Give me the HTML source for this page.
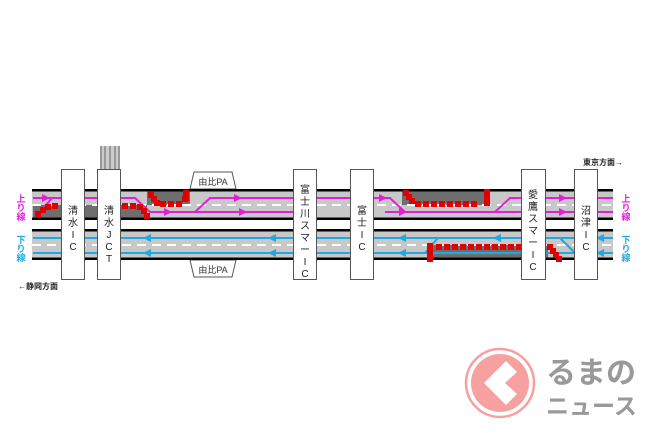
<!DOCTYPE html><html><head><meta charset="utf-8"><style>body{margin:0;background:#fff}svg{display:block}text{font-family:"Liberation Sans","Noto Sans CJK JP",sans-serif}</style></head><body>
<svg width="650" height="433" viewBox="0 0 650 433" xmlns="http://www.w3.org/2000/svg">
<defs>
<marker id="am" markerWidth="8" markerHeight="8" refX="6" refY="4" orient="auto" markerUnits="userSpaceOnUse"><path d="M0,0 L8,4 L0,8z" fill="#e020d8"/></marker>
<marker id="ab" markerWidth="8" markerHeight="8" refX="6" refY="4" orient="auto" markerUnits="userSpaceOnUse"><path d="M0,0 L8,4 L0,8z" fill="#20a8e0"/></marker>
</defs>
<g stroke="#777" stroke-width="1.2"><rect x="100" y="146" width="20" height="24" fill="#ccc" stroke="none"/><line x1="101" y1="146" x2="101" y2="170"/><line x1="105" y1="146" x2="105" y2="170"/><line x1="110" y1="146" x2="110" y2="170"/><line x1="115" y1="146" x2="115" y2="170"/><line x1="119" y1="146" x2="119" y2="170"/></g>
<path d="M194,172 L232,172 L236,189 L190,189z" fill="#fff" stroke="#555"/>
<path d="M190,260 L236,260 L232,277 L194,277z" fill="#fff" stroke="#555"/>
<text x="213" y="185" font-size="9" text-anchor="middle" fill="#333">由比PA</text>
<text x="213" y="273" font-size="9" text-anchor="middle" fill="#333">由比PA</text>
<rect x="32" y="189" width="581" height="31" fill="#c8c8c8"/>
<rect x="32" y="229" width="581" height="31" fill="#c8c8c8"/>
<rect x="33" y="205" width="114" height="13" fill="#6e6e6e"/>
<rect x="147" y="191" width="43" height="14" fill="#6e6e6e"/>
<rect x="402" y="191" width="86" height="14" fill="#6e6e6e"/>
<rect x="428" y="245" width="120" height="13" fill="#6e6e6e"/>
<g fill="#000"><rect x="32" y="189" width="581" height="2.5"/><rect x="32" y="217.5" width="581" height="2.5"/><rect x="32" y="229" width="581" height="2.5"/><rect x="32" y="257.5" width="581" height="2.5"/></g>
<line x1="32" y1="205" x2="613" y2="205" stroke="#fff" stroke-width="2" stroke-dasharray="9,6"/>
<line x1="32" y1="245" x2="613" y2="245" stroke="#fff" stroke-width="2" stroke-dasharray="9,6"/>
<g stroke="#e020d8" stroke-width="2" fill="none">
<path d="M33,198 L135,198 L150,212 L300,212" />
<path d="M33,212 L40,212 L52,198"/>
<path d="M195,212 L210,198 L300,198"/>
<path d="M300,198 L390,198 L405,212 L613,212"/>
<path d="M495,212 L510,198 L613,198"/>
<line x1="33" y1="198" x2="48" y2="198" marker-end="url(#am)"/>
<line x1="150" y1="212" x2="170" y2="212" marker-end="url(#am)"/>
<line x1="220" y1="198" x2="240" y2="198" marker-end="url(#am)"/>
<line x1="225" y1="212" x2="245" y2="212" marker-end="url(#am)"/>
<line x1="360" y1="198" x2="385" y2="198" marker-end="url(#am)"/>
<line x1="385" y1="212" x2="405" y2="212" marker-end="url(#am)"/>
<line x1="540" y1="198" x2="565" y2="198" marker-end="url(#am)"/>
<line x1="540" y1="212" x2="565" y2="212" marker-end="url(#am)"/>
</g>
<g stroke="#20a8e0" stroke-width="2" fill="none">
<line x1="613" y1="238" x2="33" y2="238"/>
<line x1="613" y1="253" x2="33" y2="253"/>
<line x1="613" y1="238" x2="598" y2="238" marker-end="url(#ab)"/>
<line x1="613" y1="253" x2="598" y2="253" marker-end="url(#ab)"/>
<path d="M575,253 L560,238"/>
<path d="M438,238 L425,253"/>
<line x1="510" y1="238" x2="495" y2="238" marker-end="url(#ab)"/>
<line x1="420" y1="253" x2="400" y2="253" marker-end="url(#ab)"/>
<line x1="420" y1="238" x2="400" y2="238" marker-end="url(#ab)"/>
<line x1="290" y1="238" x2="270" y2="238" marker-end="url(#ab)"/>
<line x1="290" y1="253" x2="270" y2="253" marker-end="url(#ab)"/>
<line x1="165" y1="238" x2="145" y2="238" marker-end="url(#ab)"/>
<line x1="165" y1="253" x2="145" y2="253" marker-end="url(#ab)"/>
</g>
<g fill="#e00000">
<rect x="35" y="211" width="6" height="6"/><rect x="40" y="207" width="6" height="6"/><rect x="45" y="204" width="6" height="6"/><rect x="52" y="203" width="6" height="6"/>
<rect x="122" y="203" width="6" height="6"/><rect x="130" y="203" width="6" height="6"/><rect x="137" y="204" width="6" height="6"/><rect x="141" y="208" width="6" height="6"/><rect x="144" y="213" width="6" height="6"/>
<rect x="148" y="192" width="6" height="6"/><rect x="151" y="196" width="6" height="6"/><rect x="154" y="200" width="6" height="6"/>
<rect x="160" y="201" width="6" height="6"/><rect x="168" y="201" width="6" height="6"/><rect x="176" y="201" width="6" height="6"/><rect x="182" y="196" width="6" height="6"/><rect x="183" y="190" width="6" height="11"/>
<rect x="403" y="190" width="6" height="6"/><rect x="406" y="194" width="6" height="6"/><rect x="409" y="198" width="6" height="6"/>
<rect x="415" y="201" width="6" height="6"/><rect x="423" y="201" width="6" height="6"/><rect x="431" y="201" width="6" height="6"/><rect x="439" y="201" width="6" height="6"/><rect x="447" y="201" width="6" height="6"/><rect x="455" y="201" width="6" height="6"/><rect x="463" y="201" width="6" height="6"/><rect x="471" y="201" width="6" height="6"/>
<rect x="484" y="189" width="6" height="17"/>
<rect x="427" y="243" width="6" height="19"/>
<rect x="436" y="244" width="6" height="6"/><rect x="444" y="244" width="6" height="6"/><rect x="452" y="244" width="6" height="6"/><rect x="460" y="244" width="6" height="6"/><rect x="468" y="244" width="6" height="6"/><rect x="476" y="244" width="6" height="6"/><rect x="484" y="244" width="6" height="6"/><rect x="492" y="244" width="6" height="6"/><rect x="500" y="244" width="6" height="6"/><rect x="508" y="244" width="6" height="6"/><rect x="516" y="244" width="6" height="6"/>
<rect x="547" y="244" width="6" height="6"/><rect x="550" y="248" width="6" height="6"/><rect x="553" y="252" width="6" height="6"/><rect x="556" y="256" width="6" height="6"/>
</g>
<g fill="#fff" stroke="#555" stroke-width="1">
<rect x="61.5" y="169.5" width="23" height="110"/>
<rect x="97.5" y="169.5" width="23" height="110"/>
<rect x="293.5" y="169.5" width="23" height="110"/>
<rect x="350.5" y="169.5" width="23" height="110"/>
<rect x="521.5" y="169.5" width="24" height="110"/>
<rect x="574.5" y="169.5" width="23" height="110"/>
</g>
<g font-size="10" fill="#222" text-anchor="middle">
<text x="73" y="214">清</text><text x="73" y="226">水</text><text x="73" y="238">I</text><text x="73" y="250">C</text>
<text x="109" y="214">清</text><text x="109" y="226">水</text><text x="109" y="238">J</text><text x="109" y="250">C</text><text x="109" y="262">T</text>
<text x="305" y="193">富</text><text x="305" y="205">士</text><text x="305" y="217">川</text><text x="305" y="229">ス</text><text x="305" y="241">マ</text><text x="305" y="253">ー</text><text x="305" y="265">I</text><text x="305" y="277">C</text>
<text x="362" y="214">富</text><text x="362" y="226">士</text><text x="362" y="238">I</text><text x="362" y="250">C</text>
<text x="533" y="198">愛</text><text x="533" y="210">鷹</text><text x="533" y="222">ス</text><text x="533" y="234">マ</text><text x="533" y="246">ー</text><text x="533" y="258">I</text><text x="533" y="270">C</text>
<text x="586" y="214">沼</text><text x="586" y="226">津</text><text x="586" y="238">I</text><text x="586" y="250">C</text>
</g>
<g font-size="9" font-weight="bold" text-anchor="middle">
<text x="21" y="202" fill="#e020d8">上</text><text x="21" y="211" fill="#e020d8">り</text><text x="21" y="220" fill="#e020d8">線</text>
<text x="21" y="243" fill="#20a8e0">下</text><text x="21" y="252" fill="#20a8e0">り</text><text x="21" y="261" fill="#20a8e0">線</text>
<text x="626" y="202" fill="#e020d8">上</text><text x="626" y="211" fill="#e020d8">り</text><text x="626" y="220" fill="#e020d8">線</text>
<text x="626" y="243" fill="#20a8e0">下</text><text x="626" y="252" fill="#20a8e0">り</text><text x="626" y="261" fill="#20a8e0">線</text>
</g>
<text x="18" y="289" font-size="8" font-weight="bold" fill="#222">←静岡方面</text>
<text x="583" y="165" font-size="8" font-weight="bold" fill="#222">東京方面→</text>
<circle cx="500" cy="383" r="34" fill="none" stroke="#f7a0a0" stroke-width="2.5"/>
<circle cx="500" cy="383" r="29" fill="#f7a0a0"/>
<path d="M506,361 L517,372 L505,383 L517,394 L506,405 L484,383z" fill="#fff"/>
<text x="546" y="383" font-size="30" font-weight="bold" fill="#999">るまの</text>
<text x="546" y="414" font-size="23" font-weight="bold" fill="#999">ニュース</text>
</svg>
</body></html>
